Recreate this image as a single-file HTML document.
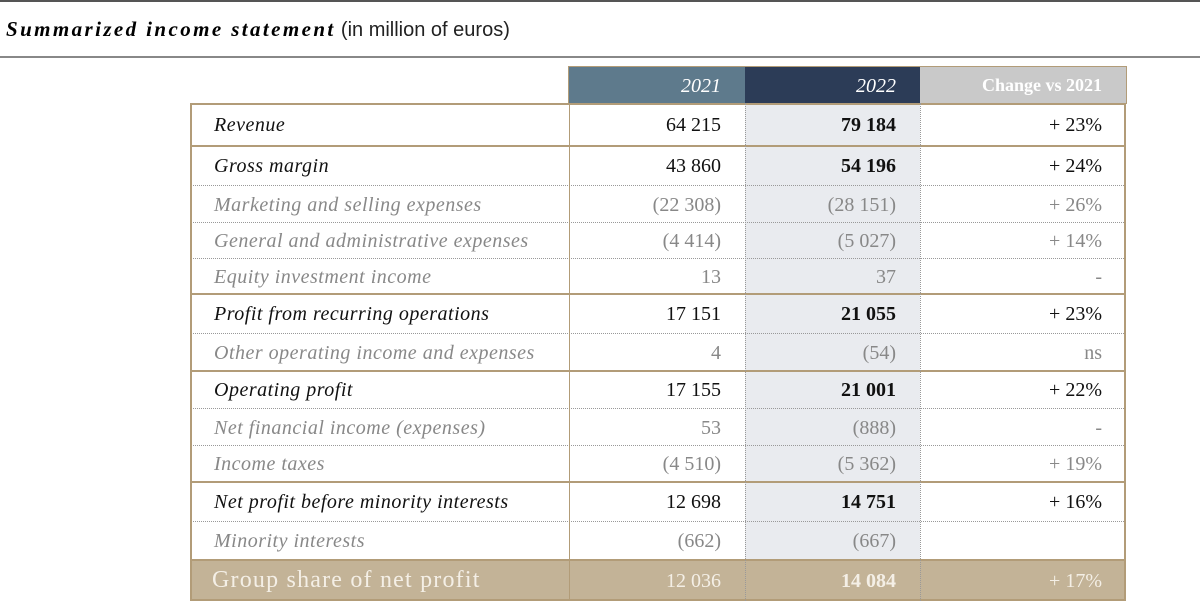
<!DOCTYPE html>
<html><head><meta charset="utf-8"><style>
body{margin:0;width:1200px;height:609px;background:#fff;position:relative;overflow:hidden;font-family:"Liberation Serif",serif}
.a{position:absolute}
.c{position:absolute;box-sizing:border-box;padding-right:24px;text-align:right;font-size:20px;white-space:nowrap}
</style></head><body>
<div class="a" style="left:0;top:0;width:1200px;height:2px;background:#555"></div>
<div class="a" style="left:6px;top:17px;font-size:21px;white-space:nowrap"><b><i style="letter-spacing:2.4px">Summarized income statement</i></b> <span style="font-family:'Liberation Sans',sans-serif;font-size:20px;color:#222">(in million of euros)</span></div>
<div class="a" style="left:0;top:56px;width:1200px;height:2px;background:#888"></div>
<div class="a" style="left:745px;top:103px;width:175px;height:456px;background:#e9ebef"></div>
<div class="a" style="left:569px;top:67px;width:176px;height:36px;background:#5e7a8c"></div>
<div class="a" style="left:745px;top:67px;width:175px;height:36px;background:#2c3c57"></div>
<div class="a" style="left:920px;top:67px;width:206px;height:36px;background:#c9c9c9"></div>
<div class="c" style="left:569px;top:75px;width:176px;color:#fff;font-style:italic">2021</div>
<div class="c" style="left:745px;top:75px;width:175px;color:#fff;font-style:italic">2022</div>
<div class="c" style="left:920px;top:75px;width:206px;color:#fff;font-weight:bold;font-size:18px">Change vs 2021</div>
<div class="a" style="left:568px;top:66px;width:557px;height:37px;border:1px solid #b29c78;border-bottom:none"></div>
<div class="a" style="left:190px;top:559px;width:936px;height:42px;background:#c3b397"></div>
<div id="rows"></div>
<div class="a" style="left:190px;top:103px;width:936px;height:498px;box-sizing:border-box;border:2px solid #b29c78"></div>
<div class="a" style="left:569px;top:103px;width:1px;height:498px;background:#b29c78"></div>
<div class="a" style="left:745px;top:103px;width:0;height:498px;border-left:1px dotted #999"></div>
<div class="a" style="left:920px;top:103px;width:0;height:498px;border-left:1px dotted #999"></div>
<script>
const labels=["Revenue","Gross margin","Marketing and selling expenses","General and administrative expenses","Equity investment income","Profit from recurring operations","Other operating income and expenses","Operating profit","Net financial income (expenses)","Income taxes","Net profit before minority interests","Minority interests","Group share of net profit"];
const v2021=["64 215","43 860","(22 308)","(4 414)","13","17 151","4","17 155","53","(4 510)","12 698","(662)","12 036"];
const v2022=["79 184","54 196","(28 151)","(5 027)","37","21 055","(54)","21 001","(888)","(5 362)","14 751","(667)","14 084"];
const changes=["+ 23%","+ 24%","+ 26%","+ 14%","-","+ 23%","ns","+ 22%","-","+ 19%","+ 16%","","+ 17%"];
const kinds=["main","main","sub","sub","sub","main","sub","main","sub","sub","main","sub","total"];
const tops=[103,145,185,222,258,293,333,370,408,445,481,521,559,601];
const solidAfter=[0,4,6,9,11];
const R=document.getElementById('rows');
labels.forEach((l,i)=>{
 const t=tops[i],h=tops[i+1]-t,k=kinds[i];
 const col=k=='main'?'#111':k=='sub'?'#888':'#f4efe6';
 const y=t+(h-24)/2+2;
 const mk=(txt,x,w,st,name)=>{const d=document.createElement('div');d.className='c';d.style.cssText=`left:${x}px;top:${y}px;width:${w}px;color:${col};${st}`;d.textContent=txt;
 
 
 R.appendChild(d);};
 const lblSt=k=='total'?'text-align:left;padding-left:22px;font-size:24px;letter-spacing:1.2px;top:'+(y-3)+'px':'text-align:left;padding-left:24px;font-style:italic;letter-spacing:0.5px';
 mk(l,190,379,lblSt,'row-label');
 mk(v2021[i],569,176,'','value-2021');
 mk(v2022[i],745,175,(k=='main'||k=='total')?'font-weight:bold':'','value-2022');
 mk(changes[i],920,206,'','change-value');
 if(i<labels.length-1){const s=document.createElement('div');s.className='a';
  const solid=solidAfter.includes(i)||i==11;
  s.style.cssText=`left:190px;top:${tops[i+1]}px;width:936px;height:0;border-top:${solid?'2px solid #b29c78':'1px dotted #999'}`;
  
  
  R.appendChild(s);}
});
</script>
</body></html>
